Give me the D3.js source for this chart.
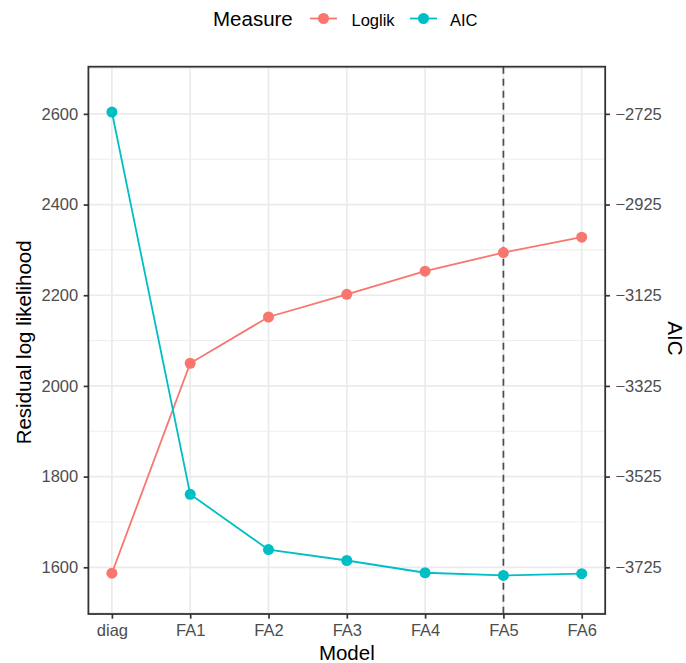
<!DOCTYPE html>
<html>
<head>
<meta charset="utf-8">
<script src="https://cdn.jsdelivr.net/npm/d3@7"></script>
<style>
  html, body { margin: 0; padding: 0; background: #fff; }
  svg { display: block; font-family: "Liberation Sans", Arial, Helvetica, sans-serif; }
</style>
</head>
<body>
<svg id="chart" width="686" height="663"></svg>
<script>
// Model fit comparison: residual log likelihood and AIC per model
const models = ["diag", "FA1", "FA2", "FA3", "FA4", "FA5", "FA6"];
const loglik = [1587, 2050, 2152, 2202, 2253, 2294, 2328];
const aic = [-2721, -3564, -3686, -3710, -3737, -3743, -3739];
const aicShift = 5325;          // secondary axis: AIC = left value - aicShift
const leftTicks = [1600, 1800, 2000, 2200, 2400, 2600];
const leftMinor = [1500, 1700, 1900, 2100, 2300, 2500, 2700];
const rightTicks = [-3725, -3525, -3325, -3125, -2925, -2725];
const chosenModel = "FA5";
const seriesNames = ["Loglik", "AIC"];
const seriesColors = ["#F8766D", "#00BFC4"];

const svg = d3.select("#chart");
const panel = { left: 88.4, right: 605.2, top: 66.7, bottom: 614 };

const x = d3.scalePoint().domain(models).range([panel.left, panel.right]).padding(0.3);
const y = d3.scaleLinear().domain([1497, 2704]).range([panel.bottom, panel.top]);
const yRight = d3.scaleLinear()
  .domain(y.domain().map(v => v - aicShift))
  .range(y.range());

// gridlines
const grid = svg.append("g");
grid.selectAll("line.minor").data(leftMinor.filter(v => v > y.domain()[0] && v < y.domain()[1]))
  .join("line")
  .attr("x1", panel.left).attr("x2", panel.right)
  .attr("y1", d => y(d)).attr("y2", d => y(d))
  .attr("stroke", "#EBEBEB").attr("stroke-width", 0.9);
grid.selectAll("line.majorY").data(leftTicks)
  .join("line")
  .attr("x1", panel.left).attr("x2", panel.right)
  .attr("y1", d => y(d)).attr("y2", d => y(d))
  .attr("stroke", "#EBEBEB").attr("stroke-width", 1.7);
grid.selectAll("line.majorX").data(models)
  .join("line")
  .attr("x1", d => x(d)).attr("x2", d => x(d))
  .attr("y1", panel.top).attr("y2", panel.bottom)
  .attr("stroke", "#EBEBEB").attr("stroke-width", 1.7);

// chosen model marker
svg.append("line")
  .attr("x1", x(chosenModel)).attr("x2", x(chosenModel))
  .attr("y1", panel.top).attr("y2", panel.bottom)
  .attr("stroke", "#4D4D4D").attr("stroke-width", 1.7)
  .attr("stroke-dasharray", "7,5");

// series
const series = [
  { name: seriesNames[0], color: seriesColors[0], values: loglik.map((v, i) => ({ m: models[i], v })) },
  { name: seriesNames[1], color: seriesColors[1], values: aic.map((v, i) => ({ m: models[i], v: v + aicShift })) }
];
const line = d3.line().x(d => x(d.m)).y(d => y(d.v));
series.forEach(s => {
  const g = svg.append("g");
  g.append("path").datum(s.values)
    .attr("d", line).attr("fill", "none")
    .attr("stroke", s.color).attr("stroke-width", 1.8);
  g.selectAll("circle").data(s.values).join("circle")
    .attr("cx", d => x(d.m)).attr("cy", d => y(d.v))
    .attr("r", 5.5).attr("fill", s.color);
});

// panel border
svg.append("rect")
  .attr("x", panel.left).attr("y", panel.top)
  .attr("width", panel.right - panel.left).attr("height", panel.bottom - panel.top)
  .attr("fill", "none").attr("stroke", "#333333").attr("stroke-width", 1.8);

// axes
function styleAxis(g) {
  g.select(".domain").remove();
  g.selectAll(".tick line").attr("stroke", "#333333").attr("stroke-width", 1.7);
  g.selectAll(".tick text").attr("fill", "#4D4D4D").attr("font-size", 16.5)
    .attr("font-family", "Liberation Sans, Arial, Helvetica, sans-serif");
}
svg.append("g").attr("transform", `translate(${panel.left},0)`)
  .call(d3.axisLeft(y).tickValues(leftTicks).tickSize(4.7).tickPadding(5.5).tickFormat(d3.format("d")))
  .call(styleAxis);
svg.append("g").attr("transform", `translate(${panel.right},0)`)
  .call(d3.axisRight(yRight).tickValues(rightTicks).tickSize(4.7).tickPadding(5.5).tickFormat(d3.format("d")))
  .call(styleAxis);
svg.append("g").attr("transform", `translate(0,${panel.bottom})`)
  .call(d3.axisBottom(x).tickSize(4.7).tickPadding(6))
  .call(styleAxis);

// axis titles
const midY = (panel.top + panel.bottom) / 2;
svg.append("text").attr("x", (panel.left + panel.right) / 2).attr("y", 660)
  .attr("text-anchor", "middle").attr("font-size", 20.5).attr("fill", "#000").text("Model");
svg.append("text").attr("transform", `translate(31,${midY + 2}) rotate(-90)`)
  .attr("text-anchor", "middle").attr("font-size", 20.5).attr("fill", "#000").text("Residual log likelihood");
svg.append("text").attr("transform", `translate(668,${midY - 2}) rotate(90)`)
  .attr("text-anchor", "middle").attr("font-size", 20.5).attr("fill", "#000").text("AIC");

// legend
const legend = svg.append("g");
legend.append("text").attr("x", 213).attr("y", 26).attr("font-size", 20.5).attr("fill", "#000").text("Measure");
const keyX = [310, 410];
const labelX = [351.5, 450];
series.forEach((s, i) => {
  legend.append("line").attr("x1", keyX[i]).attr("x2", keyX[i] + 27)
    .attr("y1", 18.5).attr("y2", 18.5).attr("stroke", s.color).attr("stroke-width", 1.8);
  legend.append("circle").attr("cx", keyX[i] + 13.5).attr("cy", 18.5).attr("r", 5.5).attr("fill", s.color);
  legend.append("text").attr("x", labelX[i]).attr("y", 25.5).attr("font-size", 16.5).attr("fill", "#000").text(s.name);
});
</script>
</body>
</html>
